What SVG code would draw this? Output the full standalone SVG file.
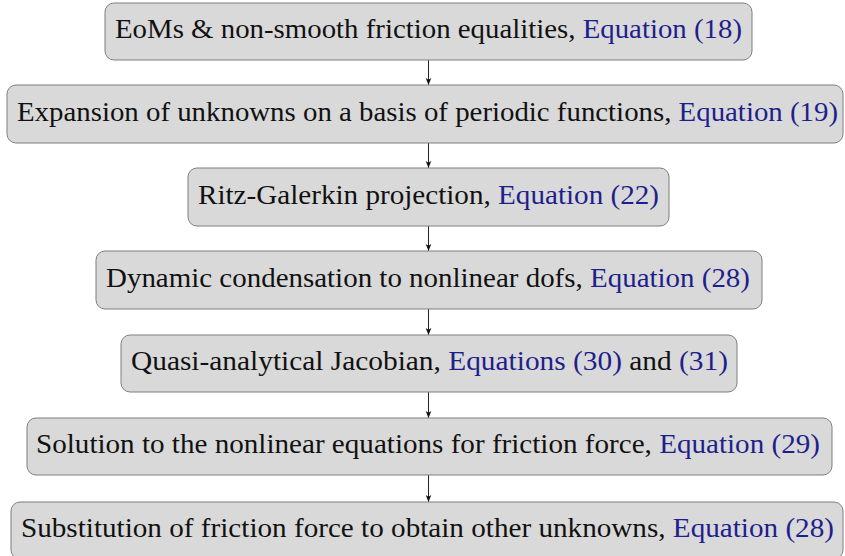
<svg xmlns="http://www.w3.org/2000/svg" width="845" height="556" viewBox="0 0 845 556">
<defs>
<style>
.box{fill:#d9d9d9;stroke:#7f7f7f;stroke-width:1}
.b{fill:#1f1f8c}
.c{stroke:#222;stroke-width:1;fill:none;marker-end:url(#ah)}
</style>
<marker id="ah" viewBox="0 0 10 10" refX="10" refY="5" markerWidth="7" markerHeight="7" markerUnits="userSpaceOnUse" orient="auto">
<path d="M0,1 L10,5 L0,9 L2.5,5 Z" fill="#111"/>
</marker>
</defs>
<rect width="845" height="556" fill="#fff"/>
<g id="connectors">
<line class="c" x1="428.5" y1="60" x2="428.5" y2="85"/>
<line class="c" x1="428.5" y1="143" x2="428.5" y2="168"/>
<line class="c" x1="428.5" y1="226" x2="428.5" y2="251"/>
<line class="c" x1="428.5" y1="309" x2="428.5" y2="335"/>
<line class="c" x1="428.5" y1="392" x2="428.5" y2="418"/>
<line class="c" x1="428.5" y1="475" x2="428.5" y2="502"/>
</g>
<g font-family="Liberation Serif, DejaVu Serif, serif" font-size="27" fill="#111">
<g id="n1">
<rect class="box" x="105" y="3" width="647" height="57" rx="9"/>
<text x="115" y="38" textLength="627" lengthAdjust="spacingAndGlyphs">EoMs &amp; non-smooth friction equalities, <tspan class="b">Equation (18)</tspan></text>
</g>
<g id="n2">
<rect class="box" x="7" y="85" width="836" height="58" rx="9"/>
<text x="17" y="121" textLength="821" lengthAdjust="spacingAndGlyphs">Expansion of unknowns on a basis of periodic functions, <tspan class="b">Equation (19)</tspan></text>
</g>
<g id="n3">
<rect class="box" x="188" y="168" width="481" height="58" rx="9"/>
<text x="198" y="204" textLength="461" lengthAdjust="spacingAndGlyphs">Ritz-Galerkin projection, <tspan class="b">Equation (22)</tspan></text>
</g>
<g id="n4">
<rect class="box" x="96" y="251" width="666" height="58" rx="9"/>
<text x="106" y="287" textLength="644" lengthAdjust="spacingAndGlyphs">Dynamic condensation to nonlinear dofs, <tspan class="b">Equation (28)</tspan></text>
</g>
<g id="n5">
<rect class="box" x="121" y="335" width="616" height="57" rx="9"/>
<text x="131" y="370" textLength="597" lengthAdjust="spacingAndGlyphs">Quasi-analytical Jacobian, <tspan class="b">Equations (30)</tspan> and <tspan class="b">(31)</tspan></text>
</g>
<g id="n6">
<rect class="box" x="27" y="418" width="805" height="57" rx="9"/>
<text x="36" y="453" textLength="784" lengthAdjust="spacingAndGlyphs">Solution to the nonlinear equations for friction force, <tspan class="b">Equation (29)</tspan></text>
</g>
<g id="n7">
<rect class="box" x="11" y="502" width="832" height="57" rx="9"/>
<text x="21" y="537" textLength="813" lengthAdjust="spacingAndGlyphs">Substitution of friction force to obtain other unknowns, <tspan class="b">Equation (28)</tspan></text>
</g>
</g>
</svg>
